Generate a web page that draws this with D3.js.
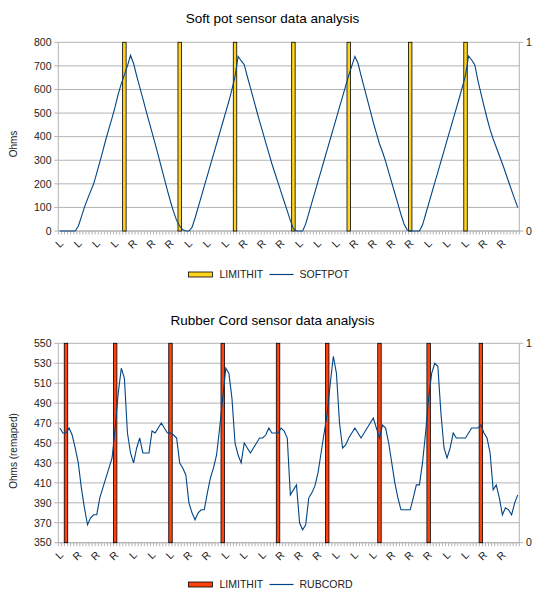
<!DOCTYPE html>
<html lang="en">
<head>
<meta charset="utf-8">
<title>Sensor data analysis</title>
<script src="https://d3js.org/d3.v7.min.js"></script>
<style>
body { margin: 0; background: #fff; }
text { font-family: "Liberation Sans", Arial, sans-serif; fill: #000; }
</style>
</head>
<body>
<div id="container"></div>
<script>
// soft pot readings (Ohms), one per sample
var softpot = [
  0,0,0,0,0,0,20,60,100,135,
  168,200,245,292,340,390,435,480,527,580,
  625,662,700,745,710,658,610,562,512,465,
  418,370,322,272,222,172,125,82,45,20,
  5,0,0,15,55,100,145,190,235,280,
  325,370,415,460,505,550,600,655,740,722,
  705,655,608,560,512,465,420,375,330,285,
  245,205,165,125,85,45,10,0,0,0,
  30,75,120,165,210,255,300,345,390,435,
  480,525,570,615,660,700,740,712,660,610,
  560,510,460,415,370,335,295,250,205,160,
  115,70,30,5,0,0,0,0,25,70,
  115,160,205,250,295,340,385,430,475,520,
  565,612,660,742,725,705,640,585,530,478,
  430,390,355,320,285,248,210,172,135,100
];
// rubber cord readings (Ohms remaped)
var rubcord = [
  465,460,460,465,458,445,430,405,385,368,
  375,378,378,395,405,415,425,435,465,500,
  525,515,460,440,430,445,455,440,440,440,
  462,460,465,470,465,460,460,458,455,430,
  425,418,390,380,373,380,383,383,400,415,
  425,438,465,495,525,520,495,450,438,430,
  450,445,440,445,450,455,455,458,465,460,
  460,460,465,462,455,398,403,408,370,363,
  368,395,400,407,420,440,460,480,510,537,
  520,470,445,448,455,460,465,460,455,460,
  465,470,475,465,455,468,465,450,430,410,
  395,383,383,383,383,395,408,408,430,460,
  495,520,530,527,480,445,435,445,460,455,
  455,455,455,460,465,465,465,468,460,455,
  440,403,408,395,378,385,383,378,390,398
];
// samples where LIMITHIT = 1 (all others 0)
var softLimitHit = [21, 39, 57, 76, 94, 114, 132];
var rubLimitHit = [2, 18, 36, 53, 71, 87, 104, 120, 137];

// category labels shown on the axis (every 6th sample)
var labelStep = 6;
var softLabels = ["L","L","L","L","R","R","R","L","L","L","R","R","R","L","L","L","R","R","R","R","L","L","L","R","R"];
var rubLabels  = ["L","R","R","R","L","L","L","R","R","L","L","L","R","R","R","L","L","L","R","R","R","L","L","R","R"];

var softTicks = [0,100,200,300,400,500,600,700,800];
var rubTicks = [350,370,390,410,430,450,470,490,510,530,550];

var w = 545, h = 598;
var svg = d3.select("#container").append("svg")
  .attr("width", w).attr("height", h)
  .style("display", "block");

function drawChart(c) {
  var n = c.values.length;
  var left = 58.3, right = 519.3;

  var x = d3.scaleBand().domain(d3.range(n)).range([left, right]).paddingInner(0).paddingOuter(0);
  var y = d3.scaleLinear().domain(c.domain).range([c.bottom, c.top]);
  var y2 = d3.scaleLinear().domain([0, 1]).range([c.bottom, c.top]);
  var bw = x.bandwidth();
  var g = svg.append("g");

  // title
  g.append("text").attr("x", 272.5).attr("y", c.titleY)
    .attr("text-anchor", "middle").style("font-size", "13.5px").text(c.title);

  // grid
  g.append("g").selectAll("line").data(c.ticks).enter().append("line")
    .attr("x1", left).attr("x2", right)
    .attr("y1", d => y(d)).attr("y2", d => y(d))
    .attr("stroke", "#b3b3b3").attr("stroke-width", 1);

  // left axis
  g.append("line").attr("x1", left).attr("x2", left).attr("y1", c.top).attr("y2", c.bottom)
    .attr("stroke", "#b3b3b3");
  g.append("g").selectAll("line").data(c.ticks).enter().append("line")
    .attr("x1", left - 4).attr("x2", left).attr("y1", d => y(d)).attr("y2", d => y(d))
    .attr("stroke", "#b3b3b3");
  g.append("g").selectAll("text").data(c.ticks).enter().append("text")
    .attr("x", 51.5).attr("y", d => y(d)).attr("dy", "0.36em")
    .attr("text-anchor", "end").style("font-size", "10.5px").style("fill", "#222")
    .text(d => d);

  // right axis (LIMITHIT 0..1)
  g.append("line").attr("x1", right).attr("x2", right).attr("y1", c.top).attr("y2", c.bottom)
    .attr("stroke", "#b3b3b3");
  g.append("g").selectAll("line").data([0, 1]).enter().append("line")
    .attr("x1", right).attr("x2", right + 4).attr("y1", d => y2(d)).attr("y2", d => y2(d))
    .attr("stroke", "#b3b3b3");
  g.append("g").selectAll("text").data([0, 1]).enter().append("text")
    .attr("x", 526).attr("y", d => y2(d)).attr("dy", "0.36em")
    .style("font-size", "10.5px").style("fill", "#222").text(d => d);

  // y title
  g.append("text").attr("transform", "translate(17," + c.yTitleY + ") rotate(-90)")
    .attr("text-anchor", "middle").style("font-size", "10px").style("fill", "#222")
    .text(c.yTitle);

  // bottom axis + ticks between categories
  g.append("line").attr("x1", left).attr("x2", right).attr("y1", c.bottom).attr("y2", c.bottom)
    .attr("stroke", "#b3b3b3");
  g.append("g").selectAll("line").data(d3.range(n + 1)).enter().append("line")
    .attr("x1", d => d < n ? x(d) : right).attr("x2", d => d < n ? x(d) : right)
    .attr("y1", c.bottom).attr("y2", c.bottom + 3.5)
    .attr("stroke", "#b3b3b3");
  g.append("g").selectAll("text").data(c.labels).enter().append("text")
    .attr("transform", (d, i) => "translate(" + (x(i * labelStep) + bw / 2 + 4) + "," + (c.bottom + 13) + ") rotate(-45)")
    .attr("text-anchor", "end").style("font-size", "10.5px").style("fill", "#222")
    .text(d => d);

  // LIMITHIT columns
  g.append("g").selectAll("rect").data(c.hits).enter().append("rect")
    .attr("x", d => x(d) - 0.2).attr("width", bw + 0.4)
    .attr("y", y2(1)).attr("height", y2(0) - y2(1))
    .attr("fill", c.barColor).attr("stroke", "#000").attr("stroke-width", 0.8);

  // series line
  var line = d3.line().x((d, i) => x(i) + bw / 2).y(d => y(d));
  g.append("path").datum(c.values).attr("d", line)
    .attr("fill", "none").attr("stroke", "#004586").attr("stroke-width", 1.1);

  // legend
  var ly = c.legendY;
  g.append("rect").attr("x", 188.5).attr("y", ly - 2.5).attr("width", 24).attr("height", 5)
    .attr("fill", c.barColor).attr("stroke", "#000").attr("stroke-width", 0.8);
  g.append("text").attr("x", 219.5).attr("y", ly).attr("dy", "0.36em")
    .style("font-size", "10.5px").style("fill", "#222").text("LIMITHIT");
  g.append("line").attr("x1", 269.5).attr("x2", 293.5).attr("y1", ly).attr("y2", ly)
    .attr("stroke", "#004586").attr("stroke-width", 1.2);
  g.append("text").attr("x", 299.5).attr("y", ly).attr("dy", "0.36em")
    .style("font-size", "10.5px").style("fill", "#222").text(c.seriesName);
}

drawChart({
  title: "Soft pot sensor data analysis", titleY: 23,
  top: 42.3, bottom: 231, domain: [0, 800], ticks: softTicks,
  values: softpot, hits: softLimitHit, labels: softLabels,
  barColor: "#ffd320", yTitle: "Ohms", yTitleY: 144,
  legendY: 274.5, seriesName: "SOFTPOT"
});

drawChart({
  title: "Rubber Cord sensor data analysis", titleY: 325,
  top: 343.3, bottom: 542.7, domain: [350, 550], ticks: rubTicks,
  values: rubcord, hits: rubLimitHit, labels: rubLabels,
  barColor: "#ff420e", yTitle: "Ohms (remaped)", yTitleY: 451,
  legendY: 584.5, seriesName: "RUBCORD"
});
</script>
</body>
</html>
